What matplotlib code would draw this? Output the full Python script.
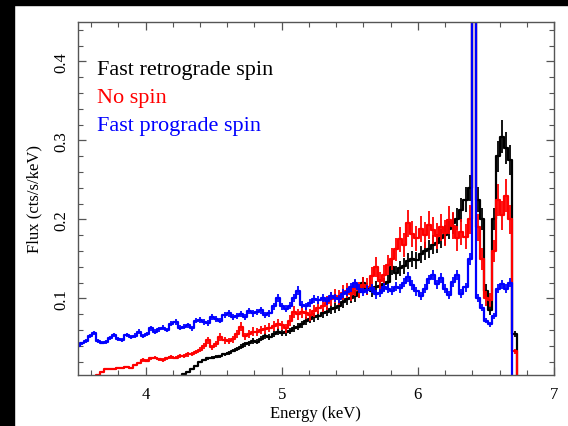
import numpy as np
import matplotlib
matplotlib.use('Agg')
import matplotlib.pyplot as plt
from matplotlib.patches import Rectangle
from matplotlib.ticker import MultipleLocator

# ─── DATA ────────────────────────────────────────────────────────────────────

# bin centres, 0.03 keV wide
ENERGY = np.round(3.50 + 0.03 * np.arange(110), 2)

BLUE_FLUX = [
    0.040, 0.043, 0.046, 0.052, 0.056, 0.046, 0.044, 0.045, 0.050, 0.054,
    0.049, 0.047, 0.054, 0.051, 0.053, 0.058, 0.052, 0.055, 0.062, 0.058,
    0.061, 0.063, 0.060, 0.068, 0.070, 0.063, 0.064, 0.066, 0.062, 0.072,
    0.073, 0.070, 0.069, 0.077, 0.074, 0.072, 0.079, 0.081, 0.076, 0.078,
    0.080, 0.076, 0.084, 0.081, 0.083, 0.085, 0.079, 0.081, 0.090, 0.101,
    0.090, 0.087, 0.091, 0.100, 0.110, 0.092, 0.090, 0.094, 0.099, 0.098,
    0.101, 0.097, 0.103, 0.101, 0.099, 0.106, 0.108, 0.114, 0.119, 0.112,
    0.108, 0.111, 0.113, 0.105, 0.107, 0.114, 0.112, 0.110, 0.115, 0.113,
    0.120, 0.127, 0.117, 0.109, 0.103, 0.112, 0.124, 0.130, 0.118, 0.126,
    0.112, 0.104, 0.121, 0.130, 0.106, 0.114, 0.150, 0.900, 0.100, 0.088,
    0.072, 0.067, 0.078, 0.112, 0.118, 0.112, 0.120, 0.0, 0.0, 0.0,
]

RED_FLUX = [
    0.0, 0.0, 0.0, 0.0, 0.0, 0.003, 0.007, 0.010, 0.011, 0.011,
    0.012, 0.012, 0.013, 0.012, 0.016, 0.018, 0.022, 0.021, 0.024, 0.025,
    0.023, 0.022, 0.024, 0.026, 0.025, 0.027, 0.027, 0.029, 0.030, 0.032,
    0.035, 0.040, 0.047, 0.038, 0.042, 0.051, 0.047, 0.046, 0.048, 0.055,
    0.064, 0.052, 0.055, 0.058, 0.057, 0.060, 0.061, 0.063, 0.065, 0.068,
    0.066, 0.062, 0.072, 0.083, 0.080, 0.083, 0.081, 0.079, 0.084, 0.088,
    0.091, 0.094, 0.099, 0.103, 0.101, 0.107, 0.110, 0.106, 0.113, 0.111,
    0.117, 0.115, 0.128, 0.140, 0.122, 0.130, 0.142, 0.150, 0.162, 0.175,
    0.168, 0.195, 0.182, 0.176, 0.188, 0.180, 0.193, 0.186, 0.179, 0.190,
    0.183, 0.199, 0.192, 0.176, 0.184, 0.178, 0.200, 0.950, 0.190, 0.150,
    0.100, 0.098, 0.160, 0.225, 0.205, 0.230, 0.200, 0.033, 0.0, 0.0,
]

BLACK_FLUX = [
    0.0, 0.0, 0.0, 0.0, 0.0, 0.0, 0.0, 0.0, 0.0, 0.0,
    0.0, 0.0, 0.0, 0.0, 0.0, 0.0, 0.0, 0.0, 0.0, 0.0,
    0.0, 0.0, 0.0, 0.0, 0.0, 0.0, 0.004, 0.007, 0.010, 0.014,
    0.019, 0.022, 0.024, 0.025, 0.026, 0.027, 0.029, 0.031, 0.034, 0.036,
    0.039, 0.042, 0.043, 0.046, 0.045, 0.049, 0.052, 0.051, 0.055, 0.058,
    0.056, 0.057, 0.059, 0.062, 0.064, 0.067, 0.071, 0.074, 0.076, 0.078,
    0.081, 0.083, 0.086, 0.088, 0.091, 0.095, 0.099, 0.101, 0.103, 0.108,
    0.119, 0.112, 0.110, 0.114, 0.116, 0.118, 0.121, 0.140, 0.132, 0.138,
    0.141, 0.147, 0.150, 0.148, 0.156, 0.160, 0.163, 0.168, 0.170, 0.176,
    0.180, 0.188, 0.195, 0.200, 0.212, 0.225, 0.240, 0.950, 0.225, 0.200,
    0.110, 0.085, 0.200, 0.280, 0.305, 0.290, 0.275, 0.055, 0.0, 0.0,
]

SERIES = [
    ('Fast retrograde spin', BLACK_FLUX, 'black', 0.07),
    ('No spin', RED_FLUX, 'red', 0.09),
    ('Fast prograde spin', BLUE_FLUX, 'blue', 0.05),
]

X_TICKS = [4, 5, 6, 7]
Y_TICKS = [0.1, 0.2, 0.3, 0.4]


# ─── PLOT ────────────────────────────────────────────────────────────────────

plt.rcParams['font.family'] = ['Liberation Serif', 'DejaVu Serif']

fig = plt.figure(figsize=(5.68, 4.27), dpi=100, facecolor='white')
# black frame bands along the top and left edge of the screenshot
fig.patches.append(Rectangle((0, 1 - 6 / 427), 1, 6 / 427,
                             transform=fig.transFigure, color='black', zorder=0))
fig.patches.append(Rectangle((0, 0), 14 / 568, 1,
                             transform=fig.transFigure, color='black', zorder=0))

ax = fig.add_axes([77.5 / 568, 1 - 376 / 427, 476.5 / 568, 353 / 427])

for label, flux, color, frac in SERIES:
    flux = np.asarray(flux)
    err = np.minimum(frac * flux, 0.03)
    ax.step(ENERGY, flux, where='mid', color=color, lw=1.6)
    ax.errorbar(ENERGY, flux, yerr=err, fmt='none',
                ecolor=color, elinewidth=1.3, capsize=0)

ax.set_xlim(3.5, 7.0)
ax.set_ylim(0.003, 0.45)

ax.set_xticks(X_TICKS)
ax.set_yticks(Y_TICKS)
ax.set_yticklabels([f'{v:g}' for v in Y_TICKS], rotation=90, va='center')
ax.xaxis.set_minor_locator(MultipleLocator(0.2))
ax.yaxis.set_minor_locator(MultipleLocator(0.02))
ax.tick_params(which='both', direction='in', top=True, right=True,
               color='#555555', labelsize=12)
ax.tick_params(which='major', length=6, width=0.9)
ax.tick_params(which='minor', length=3.5, width=0.8)
ax.tick_params(axis='y', pad=6)
ax.tick_params(axis='x', pad=8)
for sp in ax.spines.values():
    sp.set_color('#555555')
    sp.set_linewidth(1.0)

ax.set_xlabel('Energy (keV)', fontsize=12, labelpad=2)
ax.set_ylabel('Flux (cts/s/keV)', fontsize=12, labelpad=8)

for i, (label, _, color, _) in enumerate(SERIES):
    ax.text(0.041, 0.866 - i * 0.08, label, color=color, fontsize=16,
            transform=ax.transAxes, va='center', ha='left')

fig.savefig('out.png', dpi=100)
